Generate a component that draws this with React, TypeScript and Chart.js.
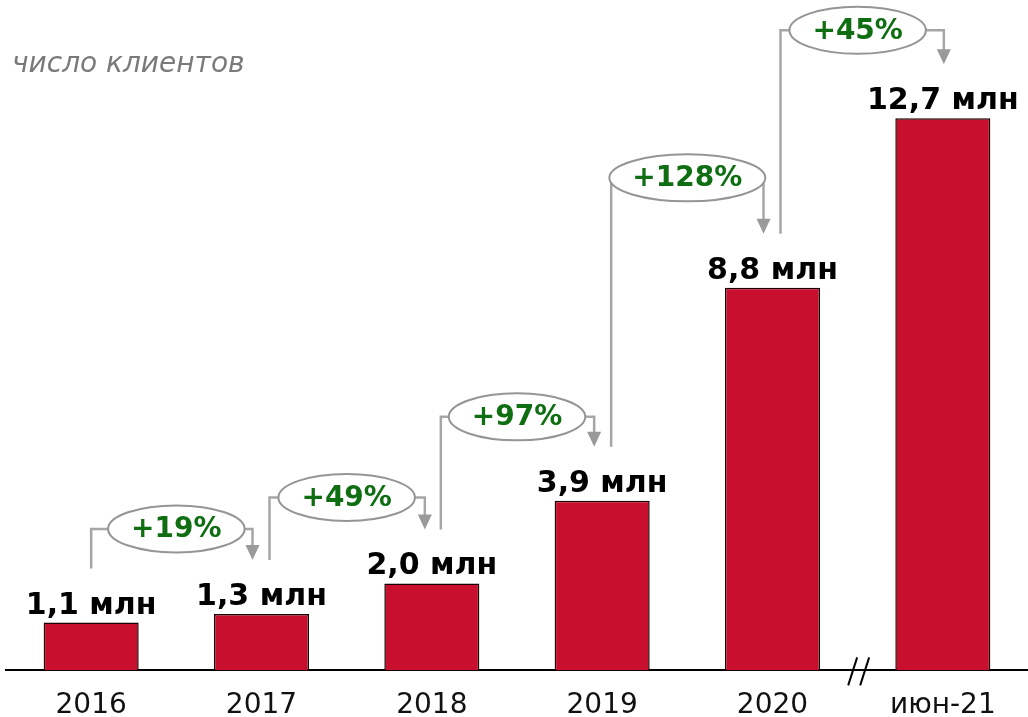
import React, { useEffect, useRef } from "react";
import { Chart, registerables } from "chart.js";

Chart.register(...registerables);

const categories = ["2016", "2017", "2018", "2019", "2020", "июн-21"];
const clients = [1.1, 1.3, 2.0, 3.9, 8.8, 12.7];
const growthLabels = ["+19%", "+49%", "+97%", "+128%", "+45%"];
const unitLabel = "млн";
const titleText = "число клиентов";

const FONT = "'DejaVu Sans', Verdana, sans-serif";

const fmt = (v: number) => v.toFixed(1).replace(".", ",") + " " + unitLabel;

const overlayPlugin = {
  id: "overlay",
  afterDatasetsDraw(chart: any) {
    const ctx = chart.ctx;
    const meta = chart.getDatasetMeta(0);
    const bars = meta.data;
    ctx.save();

    // title
    ctx.font = `italic 28px ${FONT}`;
    ctx.fillStyle = "#7a7a7a";
    ctx.textAlign = "left";
    ctx.textBaseline = "alphabetic";
    ctx.fillText(titleText, 12, 72);

    // value labels
    ctx.font = `bold 30px ${FONT}`;
    ctx.fillStyle = "#000";
    ctx.textAlign = "center";
    bars.forEach((b: any, i: number) => {
      ctx.fillText(fmt(clients[i]), b.x, b.y - 9);
    });

    // growth annotations
    const lift = [85, 86, 84, 110, 88];
    const leftDx = [0, 8, 9, 9, 8];
    const rightDx = [-9, -7, -8, -9, 1];
    const gray = "#a6a6a6";
    growthLabels.forEach((lab, i) => {
      const a = bars[i];
      const b = bars[i + 1];
      const cx = (a.x + b.x) / 2;
      const cy = b.y - lift[i];
      ctx.font = `bold 28px ${FONT}`;
      const tw = ctx.measureText(lab).width;
      const rx = (tw + 46) / 2;
      const ry = 23.5;
      const lx = a.x + leftDx[i];
      const rxPos = b.x + rightDx[i];
      const leftBottom = a.y - 54;
      const tipY = b.y - 54;

      ctx.strokeStyle = gray;
      ctx.lineWidth = 2.5;
      ctx.beginPath();
      ctx.moveTo(lx, leftBottom);
      ctx.lineTo(lx, cy);
      ctx.lineTo(cx - rx, cy);
      ctx.stroke();
      ctx.beginPath();
      ctx.moveTo(cx + rx, cy);
      ctx.lineTo(rxPos, cy);
      ctx.lineTo(rxPos, tipY - 14);
      ctx.stroke();
      ctx.fillStyle = "#9a9a9a";
      ctx.beginPath();
      ctx.moveTo(rxPos - 7, tipY - 15);
      ctx.lineTo(rxPos + 7, tipY - 15);
      ctx.lineTo(rxPos, tipY);
      ctx.closePath();
      ctx.fill();

      ctx.beginPath();
      ctx.ellipse(cx, cy, rx, ry, 0, 0, Math.PI * 2);
      ctx.fillStyle = "#fff";
      ctx.fill();
      ctx.lineWidth = 2;
      ctx.strokeStyle = "#959595";
      ctx.stroke();

      ctx.fillStyle = "#0f6e12";
      ctx.textAlign = "center";
      ctx.textBaseline = "middle";
      ctx.fillText(lab, cx, cy + 1);
      ctx.textBaseline = "alphabetic";
    });

    // axis break
    const bx = (bars[4].x + bars[5].x) / 2 + 1;
    const by = chart.chartArea.bottom + 1;
    ctx.strokeStyle = "#000";
    ctx.lineWidth = 2;
    [-6, 6].forEach((d) => {
      ctx.beginPath();
      ctx.moveTo(bx + d - 4.5, by + 14);
      ctx.lineTo(bx + d + 4.5, by - 14);
      ctx.stroke();
    });

    ctx.restore();
  },
};

export default function App() {
  const ref = useRef<HTMLCanvasElement>(null);
  useEffect(() => {
    if (!ref.current) return;
    const chart = new Chart(ref.current, {
      type: "bar",
      data: {
        labels: categories,
        datasets: [
          {
            data: clients,
            backgroundColor: "#C8102E",
            borderColor: "#1a0000",
            borderWidth: 1.5,
            borderSkipped: "bottom",
            barPercentage: 0.558,
            categoryPercentage: 1,
          },
        ],
      },
      options: {
        responsive: false,
        animation: false,
        layout: { padding: { left: 6, right: 0, top: 0, bottom: -25 } },
        plugins: {
          legend: { display: false },
          tooltip: { enabled: false },
          title: { display: false },
        },
        scales: {
          x: {
            grid: { display: false, drawTicks: false },
            border: { display: true, color: "#000", width: 2 },
            ticks: {
              font: { family: FONT, size: 28 },
              color: "#111",
              padding: 19,
              maxRotation: 0,
              autoSkip: false,
            },
          },
          y: { display: false, min: 0, max: 15.42 },
        },
      },
      plugins: [overlayPlugin],
    });
    return () => chart.destroy();
  }, []);
  return (
    <div style={{ position: "absolute", left: 0, top: 0, width: 1028, height: 717, background: "#fff" }}>
      <canvas ref={ref} width={1028} height={717} />
    </div>
  );
}
